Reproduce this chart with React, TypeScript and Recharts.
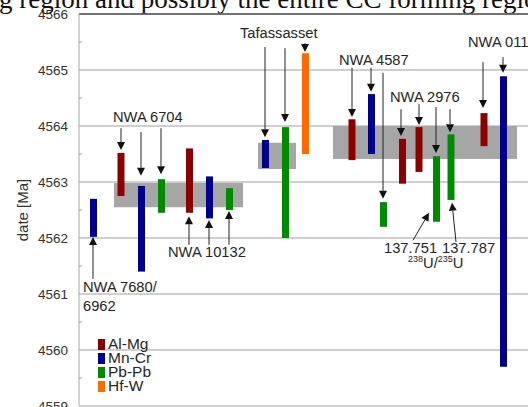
import React from 'react'
import {
  ComposedChart,
  Bar,
  Cell,
  XAxis,
  YAxis,
  CartesianGrid,
  ReferenceArea,
  ReferenceLine,
  ReferenceDot,
  Legend,
} from 'recharts'

// dating methods and their colours
const methods = ['Al-Mg', 'Mn-Cr', 'Pb-Pb', 'Hf-W']
const methodColors = ['#8b0000', '#00008b', '#008a00', '#ff6a00']

// one entry per age bar: slot on the hidden x scale, method index, age range [Ma]
const barSlot = [0.7, 2.075, 3.1, 4.1, 5.5, 6.5, 7.5, 9.3, 10.3, 11.3, 13.625, 14.6, 15.2, 16.15, 16.975, 17.85, 18.575, 20.225, 21.2]
const barMethod = [1, 0, 1, 2, 0, 1, 2, 1, 2, 3, 0, 1, 2, 0, 0, 2, 2, 0, 1]
const barLow = [4562.02, 4562.75, 4561.4, 4562.45, 4562.45, 4562.35, 4562.5, 4563.25, 4562.0, 4563.5, 4563.39, 4563.5, 4562.2, 4562.97, 4563.18, 4562.29, 4562.68, 4563.64, 4559.7]
const barHigh = [4562.7, 4563.52, 4562.93, 4563.05, 4563.6, 4563.1, 4562.89, 4563.75, 4563.98, 4565.3, 4564.12, 4564.57, 4562.64, 4563.77, 4563.98, 4563.46, 4563.85, 4564.23, 4564.89]

// grey bands (group averages)
const bandFrom = [1.75, 8.95, 12.7]
const bandTo = [8.2, 10.85, 21.9]
const bandLow = [4562.55, 4563.23, 4563.41]
const bandHigh = [4562.98, 4563.7, 4564.0]

const yTicks = [4559, 4559.5, 4560, 4560.5, 4561, 4561.5, 4562, 4562.5, 4563, 4563.5, 4564, 4564.5, 4565, 4565.5, 4566]
const yGrid = [4559, 4560, 4561, 4562, 4563, 4564, 4565, 4566]

// annotation arrows: start -> tip, in chart units
const arrowX1 = [2.1, 3.1, 4.1, 9.3, 10.3, 11.3, 13.65, 14.6, 15.2, 16.1, 17.0, 17.85, 18.55, 20.2, 21.2, 0.7, 5.5, 6.5, 7.5, 16.7, 18.85]
const arrowY1 = [4563.96, 4563.89, 4563.96, 4565.41, 4565.39, 4565.48, 4565.04, 4565.04, 4564.95, 4564.3, 4564.39, 4564.34, 4564.3, 4565.14, 4565.23, 4561.27, 4561.88, 4561.88, 4561.88, 4561.96, 4561.93]
const arrowX2 = [2.1, 3.1, 4.1, 9.3, 10.3, 11.3, 13.65, 14.6, 15.2, 16.1, 17.0, 17.85, 18.55, 20.2, 21.2, 0.7, 5.5, 6.5, 7.5, 17.5, 18.65]
const arrowY2 = [4563.57, 4563.11, 4563.14, 4563.8, 4564.07, 4565.32, 4564.16, 4564.61, 4562.7, 4563.82, 4564.02, 4563.52, 4563.89, 4564.32, 4564.95, 4562.02, 4562.39, 4562.32, 4562.48, 4562.45, 4562.63]

// labels: text, left x, baseline y
const labelText = ['NWA 6704', 'Tafassasset', 'NWA 4587', 'NWA 2976', 'NWA 011', 'NWA 10132', 'NWA 7680/', '6962', '137.751', '137.787']
const labelX = [1.7, 8.05, 13.0, 15.55, 19.45, 4.45, 0.2, 0.2, 15.25, 18.15]
const labelY = [4564.07, 4565.57, 4565.09, 4564.43, 4565.41, 4561.66, 4561.04, 4560.7, 4561.73, 4561.73]

const bars = barSlot.map((x, i) => ({ x, method: barMethod[i], lo: barLow[i], hi: barHigh[i] }))

const ink = '#262626'
const font = '"Liberation Sans", Arial, sans-serif'

const Arrow = (p: any) => {
  const { x1, y1, x2, y2 } = p
  const dx = x2 - x1
  const dy = y2 - y1
  const len = Math.hypot(dx, dy) || 1
  const ux = dx / len
  const uy = dy / len
  const hl = 8
  const hw = 4
  const bx = x2 - ux * hl
  const by = y2 - uy * hl
  const pts = `${x2},${y2} ${bx - uy * hw},${by + ux * hw} ${bx + uy * hw},${by - ux * hw}`
  return (
    <g>
      {len > hl && <line x1={x1} y1={y1} x2={bx} y2={by} stroke="#222" strokeWidth={1} />}
      <polygon points={pts} fill="#111" />
    </g>
  )
}

const YTick = (p: any) => {
  const { x, y, payload } = p
  if (payload.value % 1 !== 0) {
    return <line x1={x} x2={x + 3} y1={y} y2={y} stroke="#999" />
  }
  return (
    <text x={x - 11} y={y} dy={4.5} textAnchor="end" fontSize={13.5} fill="#333" fontFamily={font}>
      {payload.value}
    </text>
  )
}

const LegendBox = () => (
  <div style={{ fontFamily: font, fontSize: 15.5, lineHeight: '14px', color: ink }}>
    {methods.map((m, i) => (
      <div key={m} style={{ display: 'flex', alignItems: 'center', height: 14 }}>
        <span style={{ width: 7, height: 11, backgroundColor: methodColors[i], marginRight: 3 }} />
        <span>{m}</span>
      </div>
    ))}
  </div>
)

export default function App() {
  return (
    <div style={{ position: 'absolute', left: 0, top: 0, width: 528, height: 407, overflow: 'hidden', background: '#fff' }}>
      <div
        style={{
          position: 'absolute',
          left: -1,
          top: -14,
          whiteSpace: 'nowrap',
          fontFamily: '"Liberation Serif", "Times New Roman", serif',
          fontSize: 27,
          lineHeight: '27px',
          color: '#111',
        }}
      >
        g region and possibly the entire CC forming region
      </div>
      <ComposedChart
        width={559}
        height={407}
        data={bars}
        margin={{ top: 14, right: 0, bottom: 1, left: 0 }}
        style={{ position: 'absolute', left: 0, top: 0 }}
      >
        <CartesianGrid vertical={false} horizontalValues={yGrid} stroke="#a0a0a0" />
        <XAxis dataKey="x" type="number" domain={[0, 24]} hide />
        <YAxis
          domain={[4559, 4566]}
          ticks={yTicks}
          interval={0}
          width={79}
          tickSize={0}
          tickMargin={0}
          tickLine={false}
          axisLine={{ stroke: '#aaa' }}
          tick={<YTick />}
          allowDataOverflow
          label={{
            content: (lp: any) => {
              const vb = lp.viewBox
              const cx = vb.x + 28
              const cy = vb.y + vb.height / 2
              return (
                <text x={cx} y={cy} transform={`rotate(-90 ${cx} ${cy})`} textAnchor="middle" fontSize={15} fill="#333" fontFamily={font}>
                  date [Ma]
                </text>
              )
            },
          }}
        />
        <ReferenceLine y={4566} stroke="#555" strokeWidth={1.5} />
        {bandFrom.map((x1, i) => (
          <ReferenceArea key={`b${i}`} x1={x1} x2={bandTo[i]} y1={bandLow[i]} y2={bandHigh[i]} fill="#a6a6a6" fillOpacity={1} stroke="none" />
        ))}
        <Bar dataKey={(d: any) => [d.lo, d.hi]} barSize={7} isAnimationActive={false}>
          {bars.map((b, i) => (
            <Cell key={i} fill={methodColors[b.method]} />
          ))}
        </Bar>
        {arrowX1.map((x, i) => (
          <ReferenceLine
            key={`a${i}`}
            segment={[
              { x, y: arrowY1[i] },
              { x: arrowX2[i], y: arrowY2[i] },
            ]}
            shape={<Arrow />}
          />
        ))}
        {labelText.map((t, i) => (
          <ReferenceDot
            key={`l${i}`}
            x={labelX[i]}
            y={labelY[i]}
            r={0}
            shape={(sp: any) => (
              <text x={sp.cx} y={sp.cy} fontSize={14.7} fill={ink} fontFamily={font}>
                {t}
              </text>
            )}
          />
        ))}
        <ReferenceDot
          x={16.45}
          y={4561.46}
          r={0}
          shape={(sp: any) => (
            <text x={sp.cx} y={sp.cy} fontSize={14.7} fill={ink} fontFamily={font}>
              <tspan fontSize={9} dy={-6}>238</tspan>
              <tspan dy={6}>U/</tspan>
              <tspan fontSize={9} dy={-6}>235</tspan>
              <tspan dy={6}>U</tspan>
            </text>
          )}
        />
        <Legend
          layout="vertical"
          align="center"
          verticalAlign="middle"
          content={<LegendBox />}
          wrapperStyle={{ left: 98, top: 337, width: 'auto' }}
        />
      </ComposedChart>
    </div>
  )
}
